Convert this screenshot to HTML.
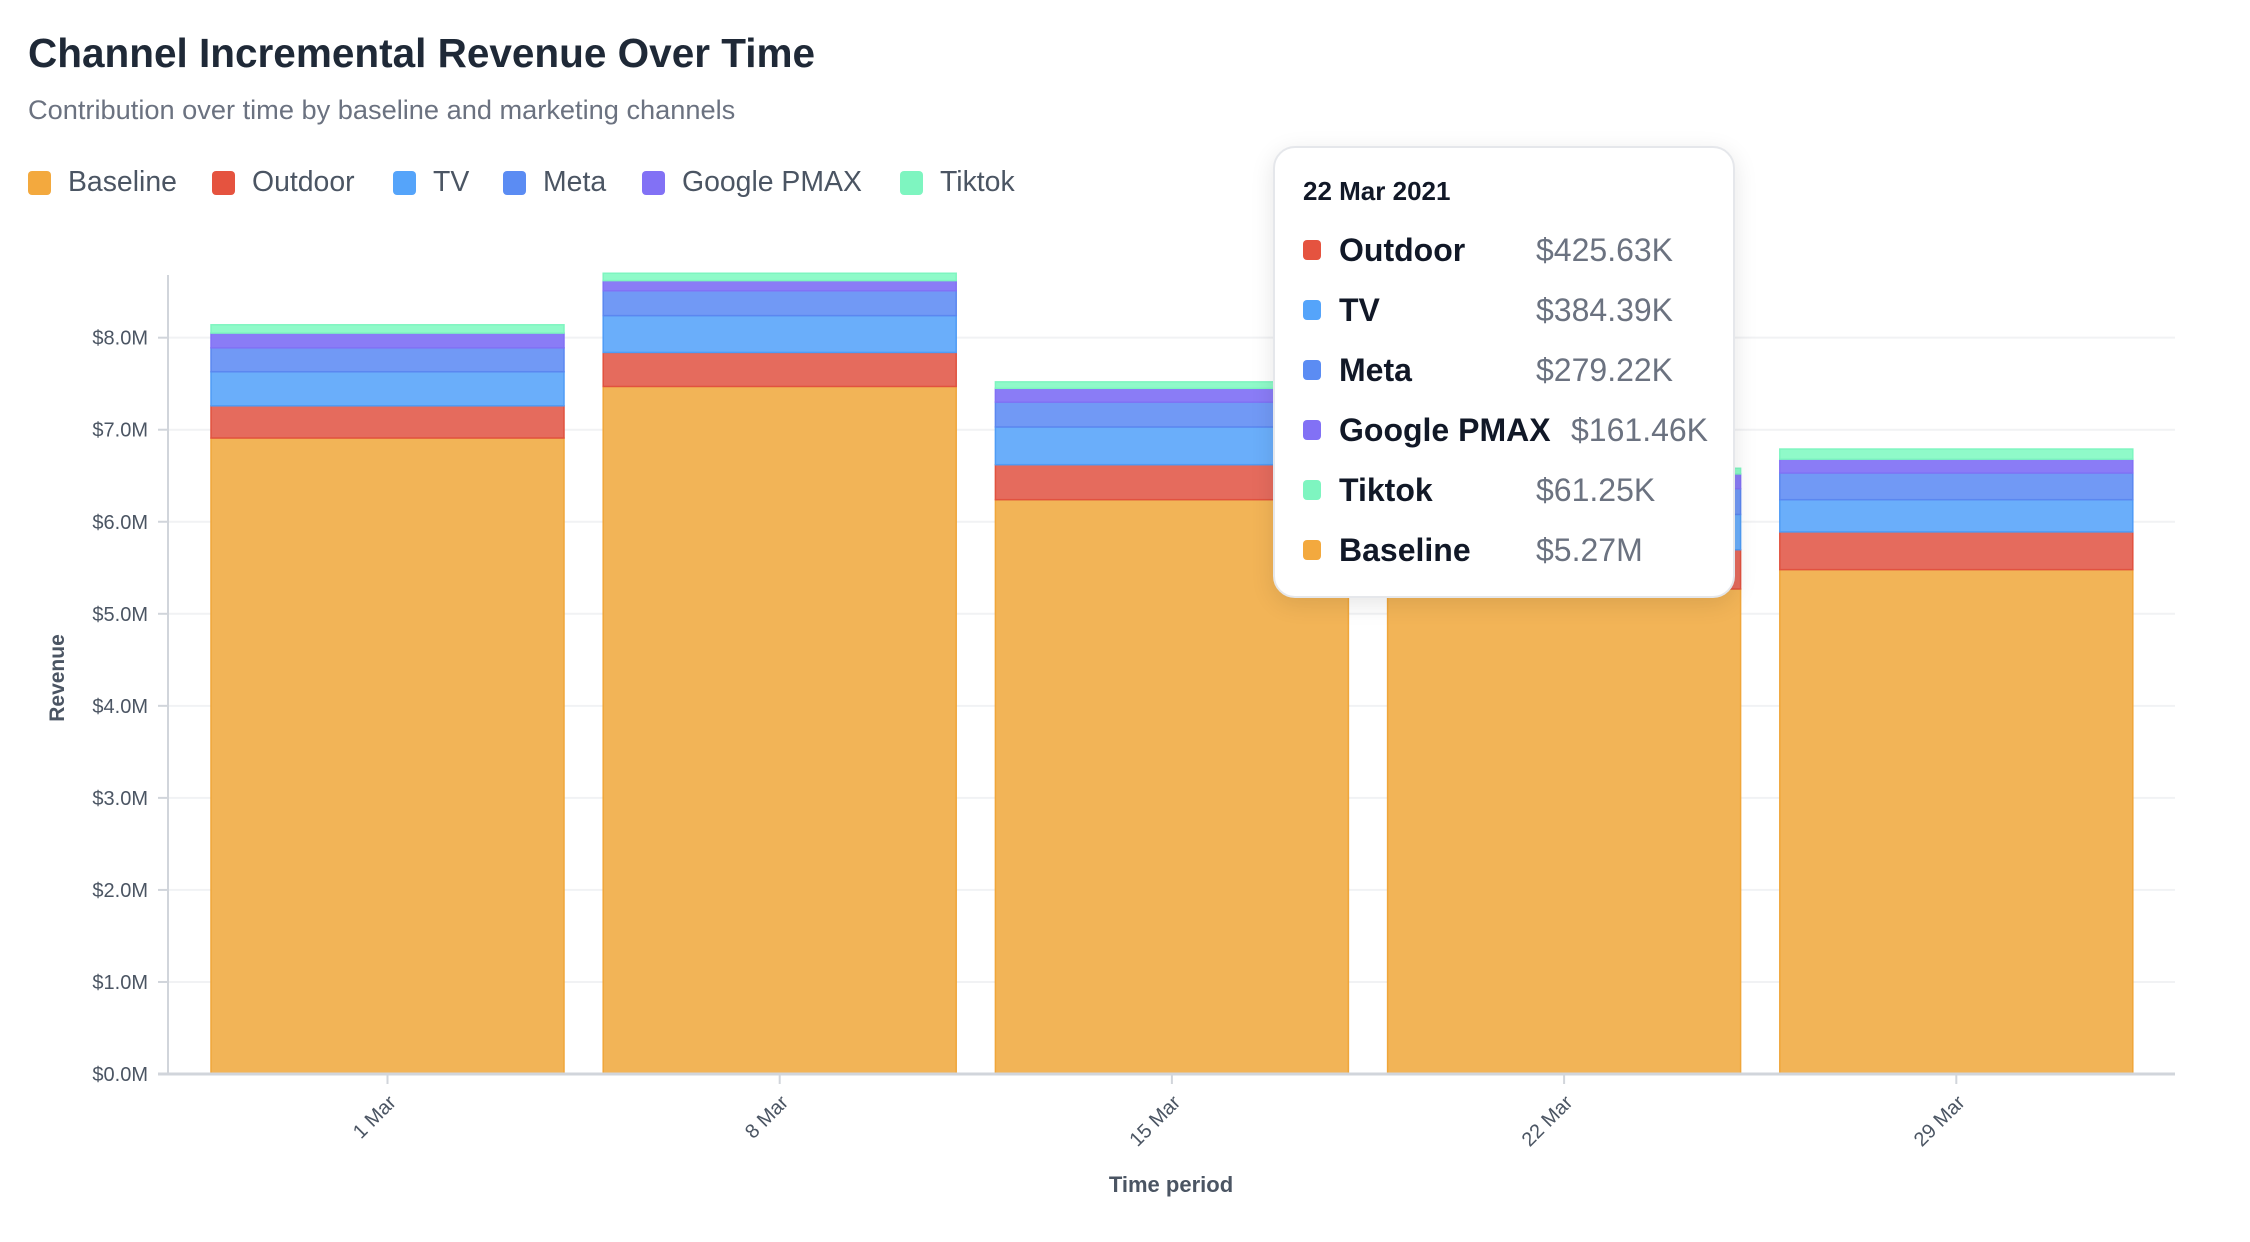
<!DOCTYPE html>
<html><head><meta charset="utf-8">
<style>
html,body{margin:0;padding:0;background:#fff;width:2250px;height:1242px;overflow:hidden;font-family:"Liberation Sans",sans-serif;}
#wrap{position:relative;width:2250px;height:1242px;}
.title{position:absolute;left:28px;top:30px;font-size:40.5px;font-weight:bold;color:#1f2937;}
.sub{position:absolute;left:28px;top:94px;font-size:27.2px;color:#6b7280;}
.leg{position:absolute;top:166px;font-size:28.4px;color:#4b5563;display:flex;align-items:center;}
.leg i{display:inline-block;width:23px;height:24px;border-radius:4px;margin-right:17px;}
.tip{position:absolute;left:1273px;top:146px;width:462px;height:452px;background:#fff;border:2px solid #e5e7eb;border-radius:22px;box-shadow:0 6px 24px rgba(0,0,0,0.10);box-sizing:border-box;}
.tip .hd{position:absolute;left:28px;top:28px;font-size:26px;font-weight:bold;color:#111827;}
.row{position:absolute;left:28px;height:40px;display:flex;align-items:center;}
.row i{display:inline-block;width:18px;height:20px;border-radius:4px;margin-right:18px;}
.row b{font-size:32px;color:#111827;}
.row span{position:absolute;font-size:32px;color:#6b7280;white-space:nowrap;}
</style></head><body>
<div id="wrap">
<div class="title">Channel Incremental Revenue Over Time</div>
<div class="sub">Contribution over time by baseline and marketing channels</div>
<div class="leg" style="left:28px"><i style="background:#f3a93e"></i>Baseline</div>
<div class="leg" style="left:212px"><i style="background:#e5533f"></i>Outdoor</div>
<div class="leg" style="left:393px"><i style="background:#55a4fa"></i>TV</div>
<div class="leg" style="left:503px"><i style="background:#5b8cf3"></i>Meta</div>
<div class="leg" style="left:642px"><i style="background:#8271f5"></i>Google PMAX</div>
<div class="leg" style="left:900px"><i style="background:#7ef5c0"></i>Tiktok</div>
<svg id="chart" width="2250" height="1242" style="position:absolute;left:0;top:0"></svg>
<div class="tip">
 <div class="hd">22 Mar 2021</div>
 <div class="row" style="top:82px"><i style="background:#e5533f"></i><b>Outdoor</b><span style="left:233px">$425.63K</span></div>
 <div class="row" style="top:142px"><i style="background:#55a4fa"></i><b>TV</b><span style="left:233px">$384.39K</span></div>
 <div class="row" style="top:202px"><i style="background:#5b8cf3"></i><b>Meta</b><span style="left:233px">$279.22K</span></div>
 <div class="row" style="top:262px"><i style="background:#8271f5"></i><b>Google PMAX</b><span style="left:268px">$161.46K</span></div>
 <div class="row" style="top:322px"><i style="background:#7ef5c0"></i><b>Tiktok</b><span style="left:233px">$61.25K</span></div>
 <div class="row" style="top:382px"><i style="background:#f3a93e"></i><b>Baseline</b><span style="left:233px">$5.27M</span></div>
</div>
</div>
<script>
const categories = ["1 Mar","8 Mar","15 Mar","22 Mar","29 Mar"];
const baseline = [6.91, 7.47, 6.24, 5.27, 5.48];
const outdoor = [0.35, 0.37, 0.38, 0.426, 0.41];
const tv = [0.37, 0.40, 0.41, 0.384, 0.35];
const meta = [0.26, 0.27, 0.27, 0.279, 0.29];
const pmax = [0.16, 0.11, 0.15, 0.161, 0.15];
const tiktok = [0.09, 0.08, 0.07, 0.061, 0.11];
const yTicks = [0,1,2,3,4,5,6,7,8];
const yTickLabels = ["$0.0M","$1.0M","$2.0M","$3.0M","$4.0M","$5.0M","$6.0M","$7.0M","$8.0M"];

const NS="http://www.w3.org/2000/svg";
const svg=document.getElementById('chart');
const X0=168, X1=2175, Y0=1074, PERM=92.04;
const FIRST=211, STEP=392.2, bw=353;
const y=v=>Y0-v*PERM;
const xb=i=>FIRST+STEP*i;
function mk(t,a){const e=document.createElementNS(NS,t);for(const k in a)e.setAttribute(k,a[k]);svg.appendChild(e);return e;}

yTicks.forEach((t,i)=>{
  if(t>0){const g=mk('line',{x1:X0,x2:X1,y1:y(t),y2:y(t),stroke:'#f1f2f4','stroke-width':2});
  
  }
  const tk=mk('line',{x1:X0-10,x2:X0,y1:y(t),y2:y(t),stroke:'#d1d5db','stroke-width':2});
  
  
  const lb=mk('text',{x:148,y:y(t)+7,'text-anchor':'end','font-size':20,fill:'#4b5563','font-family':'Liberation Sans, sans-serif'});
  lb.textContent=yTickLabels[i];
  
  
});

const series=[
 {name:'baseline',vals:baseline,fill:'#f2b457',stroke:'#f0a63a'},
 {name:'outdoor',vals:outdoor,fill:'#e56b5d',stroke:'#e1523f'},
 {name:'tv',vals:tv,fill:'#6aaefa',stroke:'#4f9cf5'},
 {name:'meta',vals:meta,fill:'#7199f5',stroke:'#5b87f0'},
 {name:'google-pmax',vals:pmax,fill:'#8a7cf6',stroke:'#8271f5'},
 {name:'tiktok',vals:tiktok,fill:'#8ffac9',stroke:'#7ef5c0'}];
categories.forEach((c,i)=>{
  let acc=0;
  series.forEach(s=>{
    const v=s.vals[i];
    const r=mk('rect',{x:xb(i),y:y(acc+v),width:bw,height:v*PERM,fill:s.fill,stroke:s.stroke,'stroke-width':1.5});
    
    
    acc+=v;
  });
  const cx=xb(i)+bw/2;
  const tk=mk('line',{x1:cx,x2:cx,y1:Y0,y2:Y0+10,stroke:'#d1d5db','stroke-width':2});
  
  
  const lb=mk('text',{x:cx,y:Y0+20,'text-anchor':'end','font-size':20,fill:'#4b5563',transform:`rotate(-45 ${cx} ${Y0+20})`,'dominant-baseline':'hanging','font-family':'Liberation Sans, sans-serif'});
  lb.textContent=c;
  
  
});
const ax=mk('line',{x1:X0,x2:X0,y1:275,y2:Y0,stroke:'#d1d5db','stroke-width':2});


const bx=mk('line',{x1:X0-10,x2:X1,y1:Y0,y2:Y0,stroke:'#d1d5db','stroke-width':3});


const yt=mk('text',{x:64,y:678,'text-anchor':'middle','font-size':21,'font-weight':'bold',fill:'#4b5563',transform:'rotate(-90 64 678)','font-family':'Liberation Sans, sans-serif'});
yt.textContent='Revenue';


const xt=mk('text',{x:1171,y:1192,'text-anchor':'middle','font-size':22,'font-weight':'bold',fill:'#4b5563','font-family':'Liberation Sans, sans-serif'});
xt.textContent='Time period';


</script>
</body></html>
